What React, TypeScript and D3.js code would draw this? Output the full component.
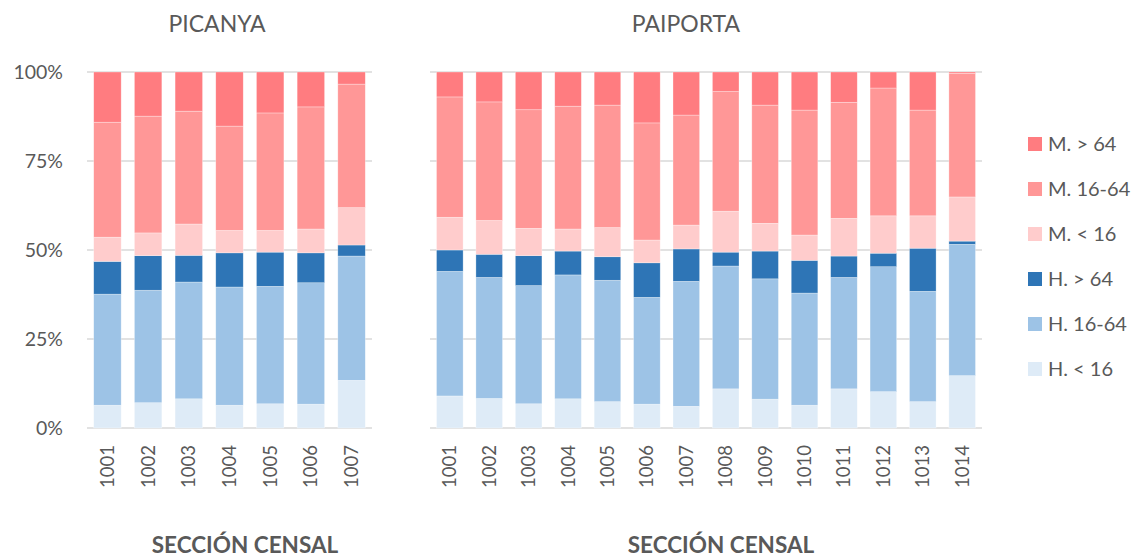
import React from "react";
import * as d3 from "d3";

const series = ["H. < 16", "H. 16-64", "H. > 64", "M. < 16", "M. 16-64", "M. > 64"];
const colors = ["#DEEBF7", "#9DC3E6", "#2E75B6", "#FFCCCC", "#FF9797", "#FF7C80"];

// PICANYA, % per sección censal (bottom to top)
const picanyaSecciones = ["1001", "1002", "1003", "1004", "1005", "1006", "1007"];
const picanyaH0 = [6.4, 7.1, 8.2, 6.4, 6.8, 6.7, 13.4];
const picanyaH16 = [31.2, 31.6, 32.8, 33.2, 33.0, 34.1, 34.9];
const picanyaH64 = [9.2, 9.7, 7.5, 9.6, 9.6, 8.4, 3.1];
const picanyaM0 = [6.8, 6.4, 8.8, 6.3, 6.1, 6.7, 10.5];
const picanyaM16 = [32.3, 32.8, 31.7, 29.3, 33.0, 34.3, 34.7];
const picanyaM64 = [14.1, 12.4, 11.0, 15.2, 11.5, 9.8, 3.4];

// PAIPORTA
const paiportaSecciones = ["1001", "1002", "1003", "1004", "1005", "1006", "1007",
  "1008", "1009", "1010", "1011", "1012", "1013", "1014"];
const paiportaH0 = [9.0, 8.3, 6.8, 8.2, 7.4, 6.7, 6.1, 11.0, 8.1, 6.4, 11.0, 10.2, 7.4, 14.7];
const paiportaH16 = [35.0, 34.0, 33.2, 34.8, 34.1, 30.0, 35.1, 34.5, 33.8, 31.5, 31.3, 35.1, 31.0, 36.9];
const paiportaH64 = [6.0, 6.5, 8.4, 6.7, 6.6, 9.7, 9.1, 3.9, 7.8, 9.2, 6.0, 3.8, 12.1, 0.9];
const paiportaM0 = [9.2, 9.5, 7.7, 6.2, 8.2, 6.4, 6.7, 11.5, 7.8, 7.1, 10.6, 10.5, 9.1, 12.4];
const paiportaM16 = [33.8, 33.3, 33.3, 34.5, 34.4, 32.9, 30.9, 33.6, 33.2, 35.1, 32.6, 35.9, 29.7, 34.7];
const paiportaM64 = [7.0, 8.4, 10.6, 9.6, 9.3, 14.3, 12.1, 5.5, 9.3, 10.7, 8.5, 4.5, 10.7, 0.4];

const yTicks = [0, 25, 50, 75, 100];

const font = "Lato, 'Open Sans', sans-serif";
const textColor = "#595959";
const gridColor = "#D9D9D9";

const buildRows = (cats, cols) =>
  cats.map((c, i) => {
    const row = { cat: c };
    series.forEach((s, j) => (row[s] = cols[j][i]));
    return row;
  });

const y = d3.scaleLinear().domain([0, 100]).range([428, 72]);

const Panel = ({ title, titleX, axisX, cats, cols, x0, x1, showY }) => {
  const x = d3.scaleBand().domain(cats).range([x0, x1]).paddingInner(0.325).paddingOuter(0.165);
  const stacked = d3.stack().keys(series)(buildRows(cats, cols));
  return (
    <g>
      <text x={titleX} y={32} textAnchor="middle" fontSize={23} fill={textColor} fontFamily={font}>
        {title}
      </text>
      {yTicks.map((t) => (
        <line key={t} x1={x0} x2={x1} y1={y(t)} y2={y(t)} stroke={gridColor} strokeWidth={1.3} />
      ))}
      {showY &&
        yTicks.map((t) => (
          <text key={"l" + t} x={63} y={y(t)} dy="0.35em" textAnchor="end" fontSize={19.5}
            fill={textColor} fontFamily={font}>
            {t + "%"}
          </text>
        ))}
      {stacked.map((layer, j) => (
        <g key={layer.key} fill={colors[j]}>
          {layer.map((d) => (
            <rect key={d.data.cat} x={x(d.data.cat)} width={x.bandwidth()} y={y(d[1])}
              height={y(d[0]) - y(d[1])} stroke="#fff" strokeOpacity={0.5} strokeWidth={0.6} />
          ))}
        </g>
      ))}
      {cats.map((c) => (
        <text key={c} transform={`translate(${x(c) + x.bandwidth() / 2},445) rotate(-90)`}
          textAnchor="end" dy="0.35em" fontSize={18.5} fill={textColor} fontFamily={font}>
          {c}
        </text>
      ))}
      <text x={axisX} y={553} textAnchor="middle" fontSize={22.5} fontWeight="bold"
        fill={textColor} fontFamily={font}>
        SECCIÓN CENSAL
      </text>
    </g>
  );
};

const App = () => {
  const legend = series.map((s, i) => ({ s, c: colors[i] })).reverse();
  return (
    <div style={{ position: "absolute", left: 0, top: 0 }}>
      <svg width={1141} height={560} style={{ display: "block", background: "#fff" }}>
        <Panel title="PICANYA" titleX={217} axisX={245} cats={picanyaSecciones}
          cols={[picanyaH0, picanyaH16, picanyaH64, picanyaM0, picanyaM16, picanyaM64]}
          x0={87} x1={372} showY />
        <Panel title="PAIPORTA" titleX={686} axisX={721} cats={paiportaSecciones}
          cols={[paiportaH0, paiportaH16, paiportaH64, paiportaM0, paiportaM16, paiportaM64]}
          x0={430} x1={982} showY={false} />
        {legend.map((l, i) => (
          <g key={l.s} transform={`translate(1028,${144 + i * 45})`}>
            <rect x={0} y={-7} width={14} height={14} fill={l.c} />
            <text x={20} y={0} dy="0.35em" fontSize={20} fill={textColor} fontFamily={font}>
              {l.s}
            </text>
          </g>
        ))}
      </svg>
    </div>
  );
};

export default App;
